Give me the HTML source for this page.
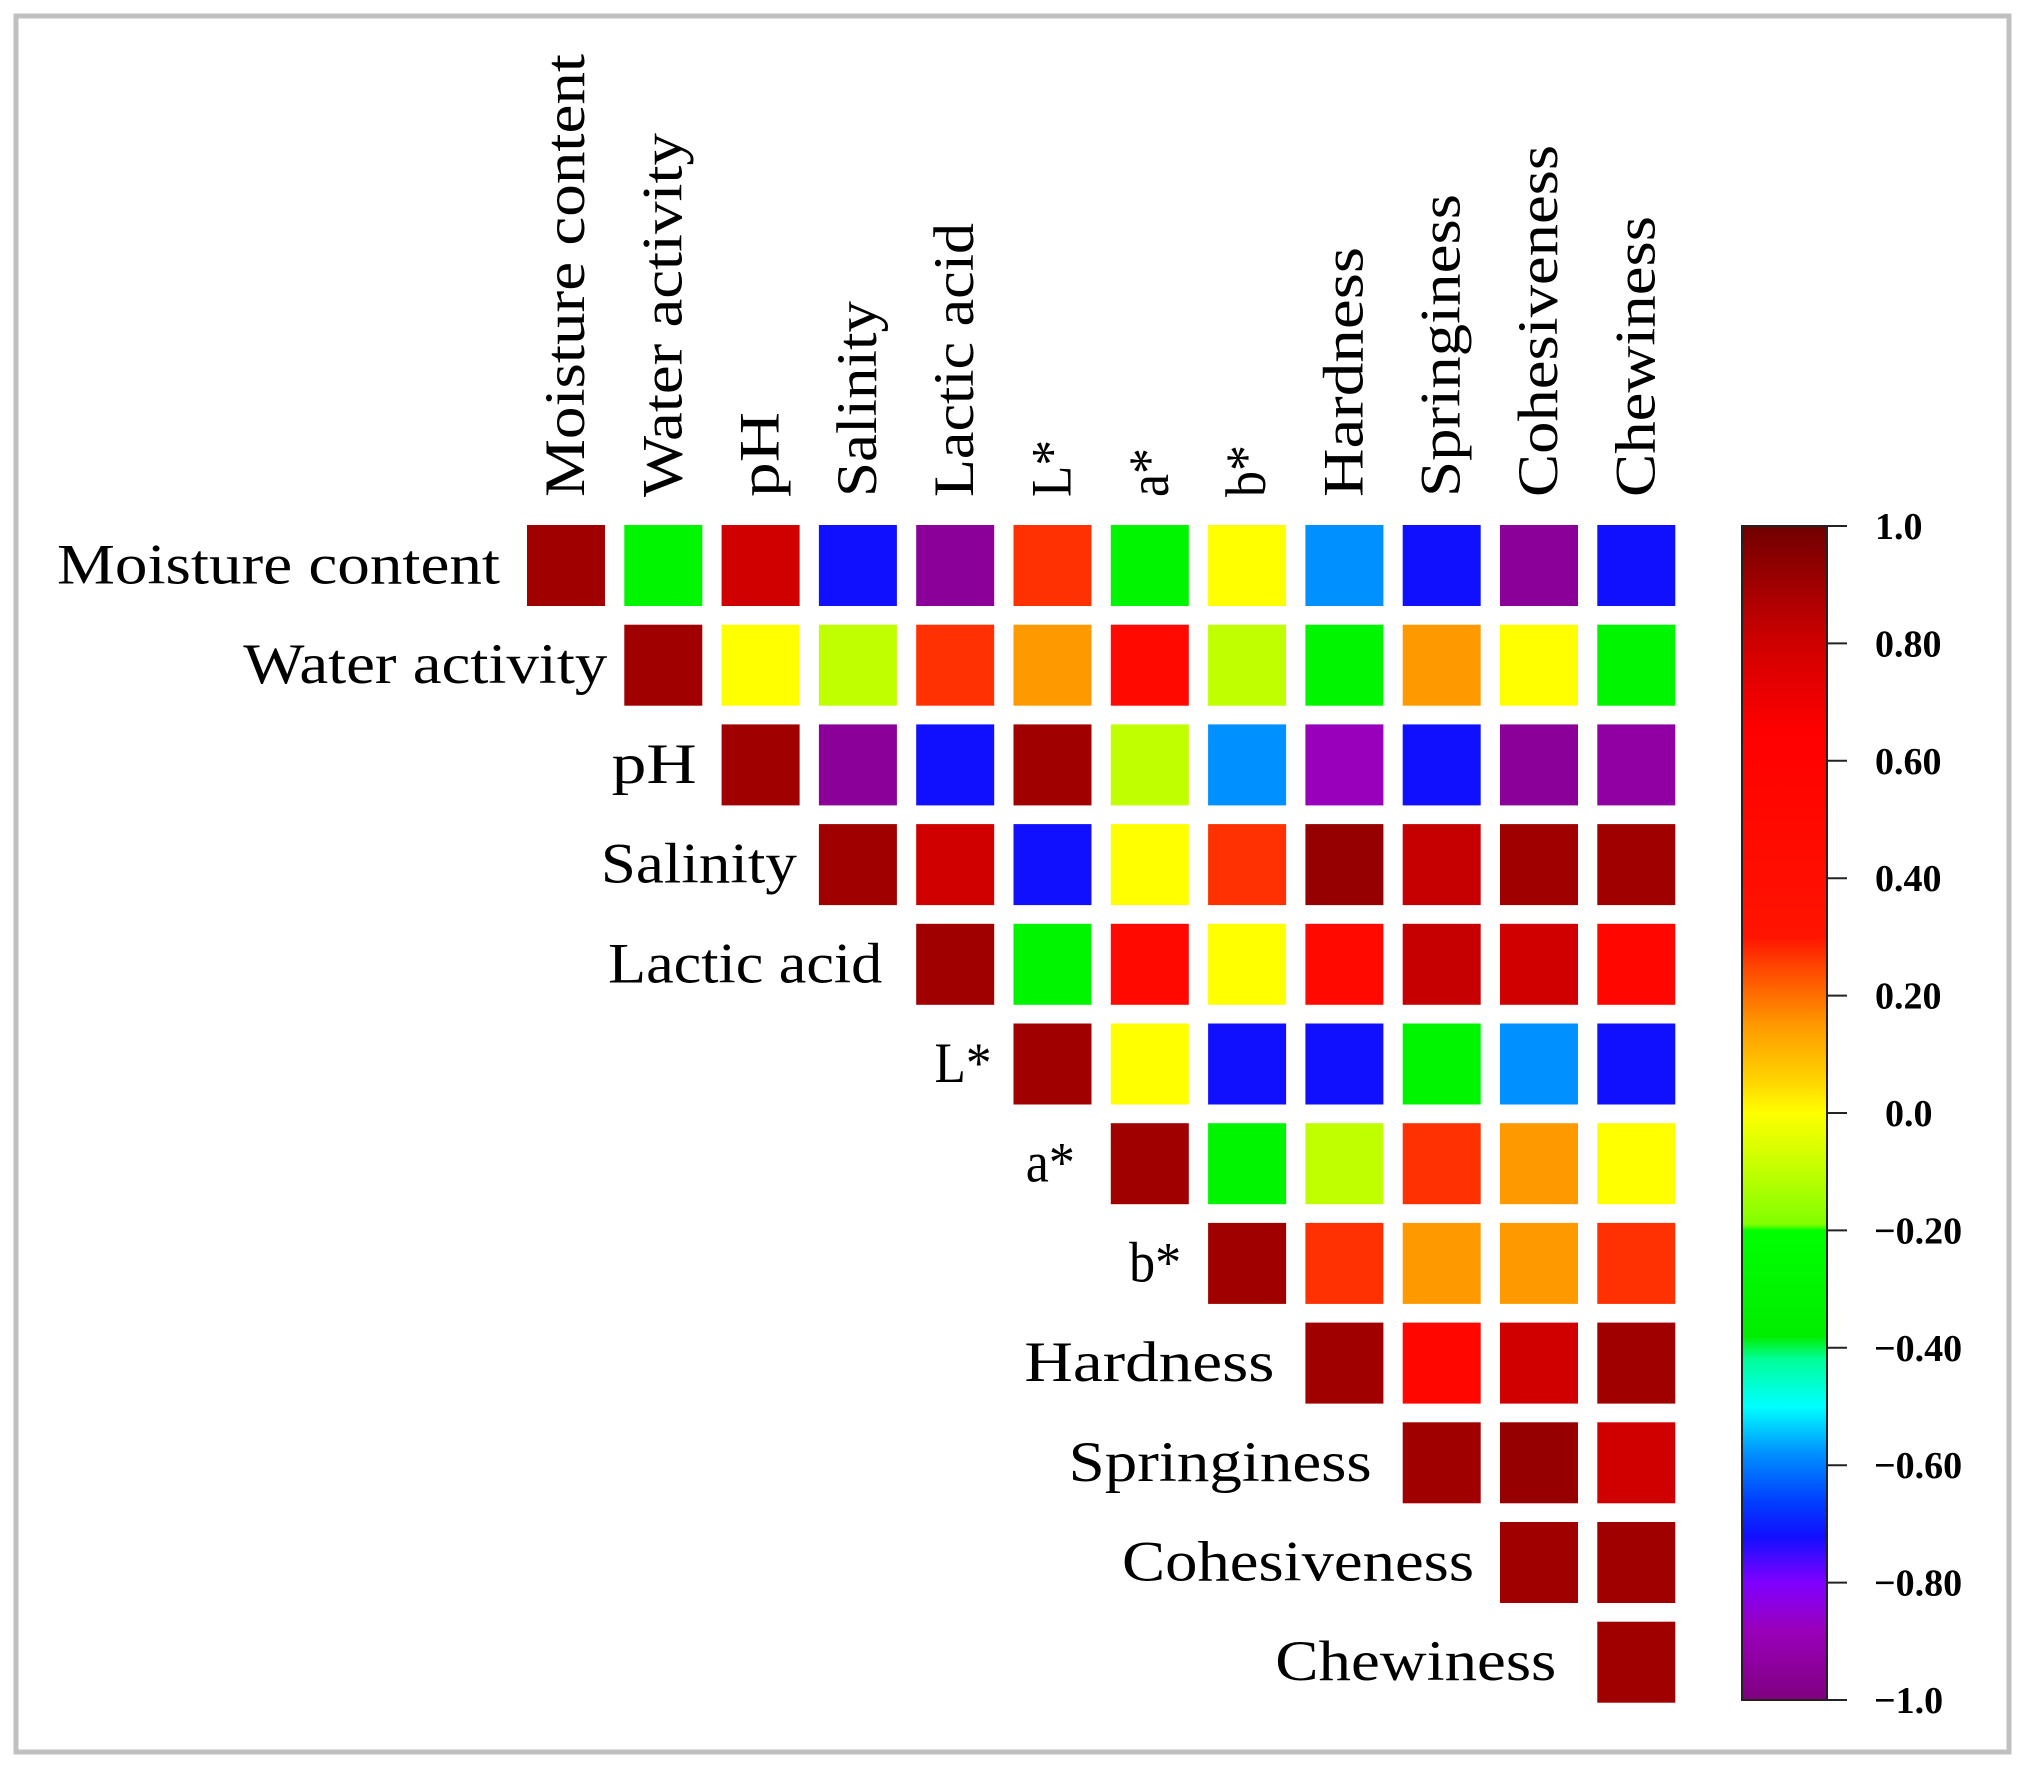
<!DOCTYPE html>
<html><head><meta charset="utf-8"><style>
html,body{margin:0;padding:0;background:#fff;}
svg{display:block;}
text{font-family:"Liberation Serif",serif;fill:#000;}
</style></head><body>
<svg id="chart" width="2023" height="1769" viewBox="0 0 2023 1769">
<rect x="16" y="16" width="1993" height="1736" fill="#fff" stroke="#c0c0c0" stroke-width="5"/>
<defs>
<linearGradient id="cbgrad" x1="0" y1="0" x2="0" y2="1"></linearGradient>
</defs>
<g id="cells"></g><g id="rowlabels"></g><g id="collabels"></g><g id="cbar"></g>
</svg>
<script>
const variables = ["Moisture content","Water activity","pH","Salinity","Lactic acid","L*","a*","b*","Hardness","Springiness","Cohesiveness","Chewiness"];
const labelLengths = [443,364,85,196,274,57,49,52,250,303,352,281];
const labelGaps = [27,17,25,22,34,22,36,27,31,31,26,41];
const row0 = [0.9,-0.3,0.8,-0.72,-0.95,0.27,-0.3,0.0,-0.58,-0.72,-0.95,-0.72];
const row1 = [0.9,0.0,-0.1,0.27,0.15,0.5,-0.1,-0.3,0.15,0.0,-0.3];
const row2 = [0.9,-0.95,-0.72,0.9,-0.1,-0.58,-0.88,-0.72,-0.95,-0.93];
const row3 = [0.9,0.8,-0.72,0.0,0.27,0.92,0.82,0.9,0.9];
const row4 = [0.9,-0.3,0.5,0.0,0.5,0.82,0.8,0.55];
const row5 = [0.9,0.0,-0.72,-0.72,-0.3,-0.58,-0.72];
const row6 = [0.9,-0.3,-0.1,0.27,0.15,0.0];
const row7 = [0.9,0.27,0.15,0.15,0.27];
const row8 = [0.9,0.55,0.8,0.9];
const row9 = [0.9,0.92,0.8];
const row10 = [0.9,0.9];
const row11 = [0.9];
const rows = [row0,row1,row2,row3,row4,row5,row6,row7,row8,row9,row10,row11];
const tickValues = [1.0,0.8,0.6,0.4,0.2,0.0,-0.2,-0.4,-0.6,-0.8,-1.0];
const tickLabels = ["1.0","0.80","0.60","0.40","0.20","0.0","\u22120.20","\u22120.40","\u22120.60","\u22120.80","\u22121.0"];

const stops = [[1.0,"#700000"],[0.9,"#a00000"],[0.8,"#d00000"],[0.65,"#ff0000"],[0.3,"#ff1400"],[0.25,"#ff4400"],[0.15,"#ff9900"],[0.05,"#ffd800"],[0,"#ffff00"],[-0.1,"#c0ff00"],[-0.19,"#80ff00"],[-0.2,"#00ff00"],[-0.38,"#00ee00"],[-0.42,"#00ff99"],[-0.5,"#00ffff"],[-0.58,"#0090ff"],[-0.66,"#0040ff"],[-0.72,"#1010ff"],[-0.8,"#8000ff"],[-0.88,"#9900bb"],[-1.0,"#800080"]];
function hex(c){return [1,3,5].map(i=>parseInt(c.substr(i,2),16));}
function color(v){
  for(let i=0;i<stops.length-1;i++){
    const [a,ca]=stops[i],[b,cb]=stops[i+1];
    if(v<=a&&v>=b){const t=(a-v)/(a-b||1);const A=hex(ca),B=hex(cb);
      return "rgb("+A.map((x,k)=>Math.round(x+(B[k]-x)*t)).join(",")+")";}
  }
  return v>1?stops[0][1]:stops[stops.length-1][1];
}
const NS="http://www.w3.org/2000/svg";
const x0=527,pitchX=97.3,y0=525,pitchY=99.7,cw=78,ch=81;
const xPos=j=>x0+j*pitchX, yPos=i=>y0+i*pitchY;
const cells=document.getElementById('cells');
rows.forEach((r,i)=>{r.forEach((v,k)=>{const j=i+k;
  const el=document.createElementNS(NS,'rect');
  el.setAttribute('x',xPos(j));el.setAttribute('y',yPos(i));el.setAttribute('width',cw);el.setAttribute('height',ch);
  el.setAttribute('fill',color(v));
  
  
  cells.appendChild(el);});});
const rl=document.getElementById('rowlabels'),cl=document.getElementById('collabels');
variables.forEach((name,i)=>{
  const t=document.createElementNS(NS,'text');
  t.setAttribute('x',xPos(i)-labelGaps[i]);t.setAttribute('y',yPos(i)+ch/2+18);
  t.setAttribute('text-anchor','end');t.setAttribute('font-size','57');
  t.setAttribute('textLength',labelLengths[i]);t.setAttribute('lengthAdjust','spacingAndGlyphs');
  t.textContent=name;
  
  
  rl.appendChild(t);
  const c=document.createElementNS(NS,'text');
  const cx=xPos(i)+cw/2+18, cy=497;
  c.setAttribute('x',cx);c.setAttribute('y',cy);
  c.setAttribute('transform','rotate(-90 '+cx+' '+cy+')');
  c.setAttribute('font-size','57');
  c.setAttribute('textLength',labelLengths[i]);c.setAttribute('lengthAdjust','spacingAndGlyphs');
  c.textContent=name;
  
  
  cl.appendChild(c);
});
// colorbar
const cbX=1742,cbW=85,cbTop=526,cbBot=1700;
const cbY=v=>cbTop+(1-v)/2*(cbBot-cbTop);
const grad=document.getElementById('cbgrad');
stops.forEach(s=>{const st=document.createElementNS(NS,'stop');st.setAttribute('offset',((1-s[0])/2*100)+'%');st.setAttribute('stop-color',s[1]);grad.appendChild(st);});
const cb=document.getElementById('cbar');
const bar=document.createElementNS(NS,'rect');
bar.setAttribute('x',cbX);bar.setAttribute('y',cbTop);bar.setAttribute('width',cbW);bar.setAttribute('height',cbBot-cbTop);
bar.setAttribute('fill','url(#cbgrad)');bar.setAttribute('stroke','#222');bar.setAttribute('stroke-width','2');


cb.appendChild(bar);
tickValues.forEach((v,i)=>{
  const y=cbY(v);
  const ln=document.createElementNS(NS,'line');
  ln.setAttribute('x1',cbX+cbW);ln.setAttribute('x2',cbX+cbW+20);ln.setAttribute('y1',y);ln.setAttribute('y2',y);
  ln.setAttribute('stroke','#222');ln.setAttribute('stroke-width','2');
  
  
  cb.appendChild(ln);
  const t=document.createElementNS(NS,'text');
  t.setAttribute('x',v<0?1874:(v===0?1885:1875));t.setAttribute('y',y+13);
  t.setAttribute('font-size','38');t.setAttribute('font-weight','bold');
  t.textContent=tickLabels[i];
  
  
  cb.appendChild(t);
});
</script>
</body></html>
